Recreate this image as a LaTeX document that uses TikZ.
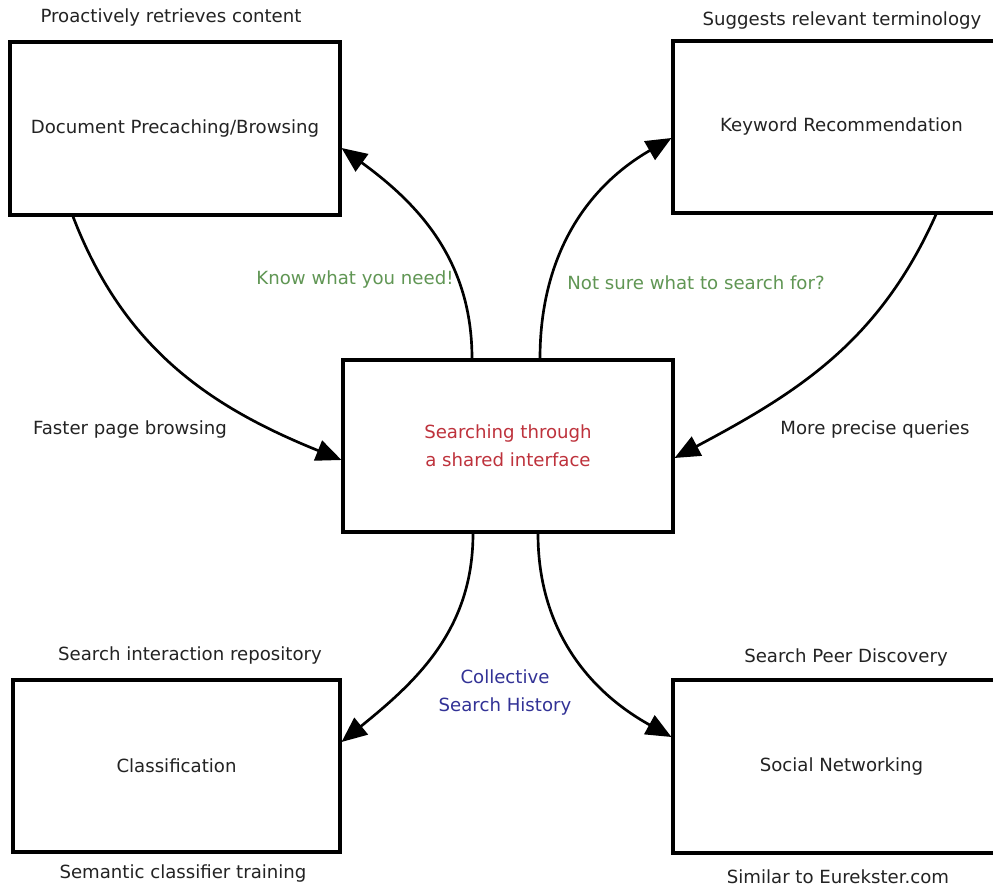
\documentclass[tikz,border=0pt]{standalone}
\usepackage{fontspec}
\setmainfont{DejaVu Sans}
\usetikzlibrary{arrows.meta}
\definecolor{inktext}{RGB}{35,35,35}
\definecolor{hintgreen}{RGB}{96,150,84}
\definecolor{hubred}{RGB}{190,50,60}
\definecolor{histblue}{RGB}{50,50,150}
\begin{document}
\begin{tikzpicture}[x=0.75pt,y=0.75pt,
  box/.style={draw=black, line width=2.3pt, fill=white, inner sep=0pt,
    text=inktext, align=center, font=\fontsize{13.6}{21}\selectfont},
  note/.style={inner sep=0pt, text=inktext, align=center,
    font=\fontsize{13.6}{21}\selectfont},
  link/.style={line width=2pt, -{Triangle[length=19pt,width=16pt]}}]

% canvas
\path[use as bounding box, clip] (0,0) rectangle (993,890);
\fill[white] (0,0) rectangle (993,890);

% boxes
\node[box, minimum width=247.5pt, minimum height=129.75pt] (TL) at (175,761.5) {Document Precaching/Browsing};
\node[box, minimum width=252.75pt, minimum height=129pt] (TR) at (841.5,763) {Keyword Recommendation};
\node[box, minimum width=247.5pt, minimum height=129pt, text=hubred] (C) at (508,444) {Searching through\\a shared interface};
\node[box, minimum width=245.25pt, minimum height=129pt] (BL) at (176.5,124) {Classification};
\node[box, minimum width=252.75pt, minimum height=129.75pt] (BR) at (841.5,123.5) {Social Networking};

% captions
\node[note] (proactive) at (171,872) {Proactively retrieves content};
\node[note] (suggest) at (842,869) {Suggests relevant terminology};
\node[note] (faster) at (130,460) {Faster page browsing};
\node[note] (precise) at (875,461) {More precise queries};
\node[note] (repo) at (190,235) {Search interaction repository};
\node[note] (peer) at (846,233) {Search Peer Discovery};
\node[note] (semantic) at (183,17) {Semantic classifier training};
\node[note] (similar) at (838,13) {Similar to Eurekster.com};
\node[note, text=hintgreen] (know) at (355,610) {Know what you need!};
\node[note, text=hintgreen] (notsure) at (696,607) {Not sure what to search for?};
\node[note, text=histblue] (collective) at (505,197.5) {Collective\\Search History};

% connectors
\draw[link] ([shift={(-36,0)}]C.north) to[out=90,in=-36] ([shift={(0,-19.5)}]TL.east);
\draw[link] ([shift={(32,0)}]C.north) to[out=90,in=210] ([shift={(0,-11)}]TR.west);
\draw[link] ([shift={(-102,0)}]TL.south) to[out=-69,in=158] ([shift={(0,-14)}]C.west);
\draw[link] ([shift={(94.5,0)}]TR.south) to[out=-114,in=28] ([shift={(0,-12)}]C.east);
\draw[link] ([shift={(-35,0)}]C.south) to[out=-90,in=39] ([shift={(0,24)}]BL.east);
\draw[link] ([shift={(30,0)}]C.south) to[out=-90,in=151] ([shift={(0,29.5)}]BR.west);
\end{tikzpicture}
\end{document}
